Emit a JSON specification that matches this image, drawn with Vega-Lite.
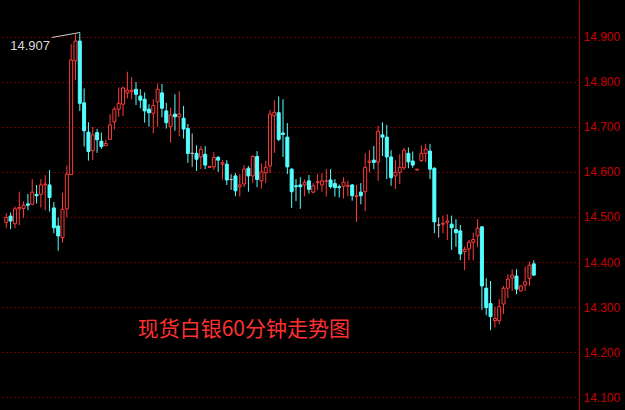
{
  "$schema": "https://vega.github.io/schema/vega-lite/v6.json",
  "width": 579,
  "height": 410,
  "autosize": "none",
  "padding": {"left": 0, "right": 46, "top": 0, "bottom": 0},
  "background": "#000000",
  "config": {
    "view": {"stroke": null},
    "axis": {
      "domainColor": "#b40000",
      "domainWidth": 1,
      "ticks": false,
      "labelPadding": 4,
      "labelColor": "#c80000",
      "labelFont": "Liberation Sans",
      "labelFontSize": 12,
      "gridColor": "#c00000",
      "gridDash": [1, 3],
      "gridWidth": 1,
      "title": null
    }
  },
  "datasets": {
    "k": [
      {"i":1,"o":14.488,"h":14.508,"l":14.475,"c":14.499},
      {"i":2,"o":14.502,"h":14.510,"l":14.473,"c":14.491},
      {"i":3,"o":14.485,"h":14.523,"l":14.475,"c":14.518},
      {"i":4,"o":14.518,"h":14.556,"l":14.482,"c":14.521},
      {"i":5,"o":14.519,"h":14.535,"l":14.498,"c":14.526},
      {"i":6,"o":14.529,"h":14.551,"l":14.515,"c":14.526},
      {"i":7,"o":14.528,"h":14.584,"l":14.526,"c":14.555},
      {"i":8,"o":14.550,"h":14.571,"l":14.530,"c":14.547},
      {"i":9,"o":14.550,"h":14.584,"l":14.521,"c":14.571},
      {"i":10,"o":14.571,"h":14.593,"l":14.515,"c":14.573},
      {"i":11,"o":14.571,"h":14.604,"l":14.512,"c":14.543},
      {"i":12,"o":14.520,"h":14.533,"l":14.464,"c":14.476},
      {"i":13,"o":14.480,"h":14.499,"l":14.425,"c":14.458},
      {"i":14,"o":14.454,"h":14.554,"l":14.443,"c":14.517},
      {"i":15,"o":14.518,"h":14.614,"l":14.499,"c":14.595},
      {"i":16,"o":14.594,"h":14.883,"l":14.593,"c":14.848},
      {"i":17,"o":14.846,"h":14.905,"l":14.804,"c":14.890},
      {"i":18,"o":14.890,"h":14.907,"l":14.735,"c":14.752},
      {"i":19,"o":14.753,"h":14.785,"l":14.656,"c":14.691},
      {"i":20,"o":14.688,"h":14.710,"l":14.625,"c":14.645},
      {"i":21,"o":14.647,"h":14.700,"l":14.626,"c":14.682},
      {"i":22,"o":14.687,"h":14.695,"l":14.642,"c":14.671},
      {"i":23,"o":14.668,"h":14.687,"l":14.651,"c":14.656},
      {"i":24,"o":14.658,"h":14.671,"l":14.658,"c":14.663},
      {"i":25,"o":14.672,"h":14.728,"l":14.671,"c":14.704},
      {"i":26,"o":14.711,"h":14.744,"l":14.694,"c":14.739},
      {"i":27,"o":14.739,"h":14.787,"l":14.722,"c":14.752},
      {"i":28,"o":14.750,"h":14.789,"l":14.724,"c":14.786},
      {"i":29,"o":14.775,"h":14.822,"l":14.763,"c":14.781},
      {"i":30,"o":14.778,"h":14.810,"l":14.761,"c":14.781},
      {"i":31,"o":14.783,"h":14.799,"l":14.748,"c":14.772},
      {"i":32,"o":14.768,"h":14.783,"l":14.741,"c":14.759},
      {"i":33,"o":14.761,"h":14.776,"l":14.709,"c":14.735},
      {"i":34,"o":14.739,"h":14.750,"l":14.700,"c":14.731},
      {"i":35,"o":14.730,"h":14.761,"l":14.685,"c":14.747},
      {"i":36,"o":14.755,"h":14.796,"l":14.700,"c":14.783},
      {"i":37,"o":14.775,"h":14.795,"l":14.721,"c":14.741},
      {"i":38,"o":14.735,"h":14.753,"l":14.696,"c":14.709},
      {"i":39,"o":14.700,"h":14.742,"l":14.665,"c":14.726},
      {"i":40,"o":14.728,"h":14.772,"l":14.691,"c":14.722},
      {"i":41,"o":14.722,"h":14.779,"l":14.679,"c":14.728},
      {"i":42,"o":14.719,"h":14.746,"l":14.674,"c":14.695},
      {"i":43,"o":14.696,"h":14.706,"l":14.620,"c":14.641},
      {"i":44,"o":14.641,"h":14.685,"l":14.611,"c":14.641},
      {"i":45,"o":14.641,"h":14.659,"l":14.602,"c":14.628},
      {"i":46,"o":14.633,"h":14.657,"l":14.606,"c":14.650},
      {"i":47,"o":14.639,"h":14.657,"l":14.606,"c":14.615},
      {"i":48,"o":14.610,"h":14.613,"l":14.610,"c":14.612},
      {"i":49,"o":14.611,"h":14.644,"l":14.604,"c":14.632},
      {"i":50,"o":14.632,"h":14.635,"l":14.600,"c":14.626},
      {"i":51,"o":14.617,"h":14.626,"l":14.583,"c":14.620},
      {"i":52,"o":14.617,"h":14.626,"l":14.571,"c":14.582},
      {"i":53,"o":14.583,"h":14.595,"l":14.560,"c":14.583},
      {"i":54,"o":14.591,"h":14.597,"l":14.546,"c":14.558},
      {"i":55,"o":14.567,"h":14.595,"l":14.545,"c":14.571},
      {"i":56,"o":14.573,"h":14.615,"l":14.566,"c":14.606},
      {"i":57,"o":14.608,"h":14.613,"l":14.556,"c":14.591},
      {"i":58,"o":14.591,"h":14.637,"l":14.576,"c":14.634},
      {"i":59,"o":14.634,"h":14.646,"l":14.566,"c":14.583},
      {"i":60,"o":14.580,"h":14.619,"l":14.563,"c":14.600},
      {"i":61,"o":14.598,"h":14.625,"l":14.575,"c":14.610},
      {"i":62,"o":14.613,"h":14.737,"l":14.598,"c":14.728},
      {"i":63,"o":14.724,"h":14.759,"l":14.642,"c":14.732},
      {"i":64,"o":14.731,"h":14.767,"l":14.668,"c":14.672},
      {"i":65,"o":14.686,"h":14.761,"l":14.633,"c":14.683},
      {"i":66,"o":14.677,"h":14.708,"l":14.595,"c":14.611},
      {"i":67,"o":14.606,"h":14.608,"l":14.520,"c":14.556},
      {"i":68,"o":14.569,"h":14.584,"l":14.535,"c":14.567},
      {"i":69,"o":14.571,"h":14.588,"l":14.518,"c":14.567},
      {"i":70,"o":14.571,"h":14.583,"l":14.546,"c":14.577},
      {"i":71,"o":14.580,"h":14.593,"l":14.552,"c":14.561},
      {"i":72,"o":14.555,"h":14.575,"l":14.552,"c":14.569},
      {"i":73,"o":14.576,"h":14.595,"l":14.560,"c":14.578},
      {"i":74,"o":14.571,"h":14.597,"l":14.556,"c":14.580},
      {"i":75,"o":14.579,"h":14.606,"l":14.545,"c":14.580},
      {"i":76,"o":14.582,"h":14.606,"l":14.563,"c":14.567},
      {"i":77,"o":14.574,"h":14.584,"l":14.545,"c":14.565},
      {"i":78,"o":14.567,"h":14.572,"l":14.543,"c":14.565},
      {"i":79,"o":14.568,"h":14.588,"l":14.541,"c":14.577},
      {"i":80,"o":14.568,"h":14.580,"l":14.546,"c":14.570},
      {"i":81,"o":14.571,"h":14.573,"l":14.536,"c":14.547},
      {"i":82,"o":14.545,"h":14.571,"l":14.489,"c":14.547},
      {"i":83,"o":14.555,"h":14.575,"l":14.528,"c":14.547},
      {"i":84,"o":14.556,"h":14.641,"l":14.513,"c":14.610},
      {"i":85,"o":14.621,"h":14.648,"l":14.599,"c":14.624},
      {"i":86,"o":14.626,"h":14.657,"l":14.606,"c":14.621},
      {"i":87,"o":14.622,"h":14.702,"l":14.580,"c":14.690},
      {"i":88,"o":14.682,"h":14.710,"l":14.635,"c":14.677},
      {"i":89,"o":14.677,"h":14.704,"l":14.584,"c":14.633},
      {"i":90,"o":14.633,"h":14.648,"l":14.569,"c":14.587},
      {"i":91,"o":14.591,"h":14.626,"l":14.562,"c":14.599},
      {"i":92,"o":14.599,"h":14.639,"l":14.573,"c":14.610},
      {"i":93,"o":14.609,"h":14.653,"l":14.604,"c":14.648},
      {"i":94,"o":14.641,"h":14.654,"l":14.608,"c":14.622},
      {"i":95,"o":14.624,"h":14.645,"l":14.609,"c":14.615},
      {"i":96,"o":14.604,"h":14.606,"l":14.603,"c":14.606},
      {"i":97,"o":14.625,"h":14.659,"l":14.622,"c":14.641},
      {"i":98,"o":14.641,"h":14.662,"l":14.622,"c":14.650},
      {"i":99,"o":14.646,"h":14.662,"l":14.584,"c":14.606},
      {"i":100,"o":14.608,"h":14.610,"l":14.464,"c":14.489},
      {"i":101,"o":14.482,"h":14.499,"l":14.454,"c":14.482},
      {"i":102,"o":14.484,"h":14.503,"l":14.464,"c":14.486},
      {"i":103,"o":14.488,"h":14.506,"l":14.449,"c":14.491},
      {"i":104,"o":14.484,"h":14.503,"l":14.427,"c":14.476},
      {"i":105,"o":14.472,"h":14.495,"l":14.434,"c":14.465},
      {"i":106,"o":14.469,"h":14.482,"l":14.404,"c":14.418},
      {"i":107,"o":14.423,"h":14.434,"l":14.382,"c":14.428},
      {"i":108,"o":14.429,"h":14.449,"l":14.404,"c":14.444},
      {"i":109,"o":14.444,"h":14.465,"l":14.404,"c":14.450},
      {"i":110,"o":14.458,"h":14.495,"l":14.433,"c":14.475},
      {"i":111,"o":14.478,"h":14.480,"l":14.294,"c":14.347},
      {"i":112,"o":14.342,"h":14.364,"l":14.282,"c":14.299},
      {"i":113,"o":14.308,"h":14.358,"l":14.249,"c":14.279},
      {"i":114,"o":14.270,"h":14.301,"l":14.255,"c":14.275},
      {"i":115,"o":14.270,"h":14.318,"l":14.262,"c":14.301},
      {"i":116,"o":14.307,"h":14.347,"l":14.285,"c":14.342},
      {"i":117,"o":14.342,"h":14.373,"l":14.320,"c":14.362},
      {"i":118,"o":14.365,"h":14.384,"l":14.336,"c":14.371},
      {"i":119,"o":14.369,"h":14.384,"l":14.329,"c":14.340},
      {"i":120,"o":14.336,"h":14.349,"l":14.335,"c":14.347},
      {"i":121,"o":14.349,"h":14.390,"l":14.336,"c":14.356},
      {"i":122,"o":14.364,"h":14.401,"l":14.347,"c":14.393},
      {"i":123,"o":14.396,"h":14.404,"l":14.370,"c":14.371}
    ],
    "pointer": [
      {"i": 11.55, "p": 14.898},
      {"i": 18.1, "p": 14.909}
    ],
    "labels": [
      {"i": 11.1, "p": 14.880, "t": "14.907", "kind": "max"}
    ],
    "title": [
      {"i": 55.93, "p": 14.250, "t": "现货白银60分钟走势图"}
    ]
  },
  "layer": [
    {
      "data": {"name": "k"},
      "mark": {"type": "rule", "strokeWidth": 1},
      "encoding": {
        "x": {"field": "i", "type": "quantitative", "scale": {"domain": [0.7, 132.3], "nice": false, "zero": false}, "axis": null},
        "y": {
          "field": "l", "type": "quantitative",
          "scale": {"domain": [14.072, 14.981], "nice": false, "zero": false},
          "axis": {"orient": "right", "values": [14.1, 14.2, 14.3, 14.4, 14.5, 14.6, 14.7, 14.8, 14.9], "format": ".3f", "grid": true}
        },
        "y2": {"field": "h"},
        "color": {
          "condition": [
            {"test": "datum.c > datum.o", "value": "#ff3c3c"},
            {"test": "datum.c < datum.o", "value": "#54ffff"}
          ],
          "value": "#c0c0c0"
        }
      }
    },
    {
      "data": {"name": "k"},
      "mark": {"type": "bar", "size": 3, "strokeWidth": 1},
      "encoding": {
        "x": {"field": "i", "type": "quantitative"},
        "y": {"field": "o", "type": "quantitative"},
        "y2": {"field": "c"},
        "fill": {
          "condition": [
            {"test": "datum.c > datum.o", "value": "#000000"},
            {"test": "datum.c < datum.o", "value": "#54ffff"}
          ],
          "value": "#c0c0c0"
        },
        "stroke": {
          "condition": [
            {"test": "datum.c > datum.o", "value": "#ff3c3c"},
            {"test": "datum.c < datum.o", "value": "#54ffff"}
          ],
          "value": "#c0c0c0"
        }
      }
    },
    {
      "data": {"name": "pointer"},
      "mark": {"type": "line", "color": "#d0d0d0", "strokeWidth": 1},
      "encoding": {
        "x": {"field": "i", "type": "quantitative"},
        "y": {"field": "p", "type": "quantitative"}
      }
    },
    {
      "data": {"name": "labels"},
      "mark": {"type": "text", "align": "right", "baseline": "middle", "font": "Liberation Sans", "fontSize": 13, "color": "#d8d8d8"},
      "encoding": {
        "x": {"field": "i", "type": "quantitative"},
        "y": {"field": "p", "type": "quantitative"},
        "text": {"field": "t"}
      }
    },
    {
      "data": {"name": "title"},
      "mark": {"type": "text", "align": "center", "baseline": "middle", "font": "Noto Sans CJK SC", "fontSize": 21, "color": "#ff3030"},
      "encoding": {
        "x": {"field": "i", "type": "quantitative"},
        "y": {"field": "p", "type": "quantitative"},
        "text": {"field": "t"}
      }
    }
  ]
}
